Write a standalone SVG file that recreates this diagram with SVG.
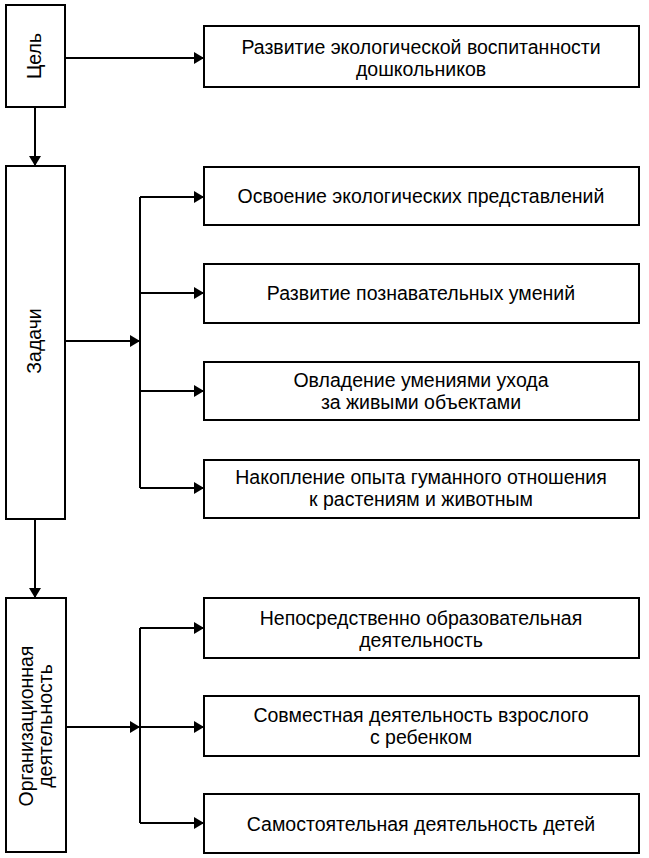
<svg xmlns="http://www.w3.org/2000/svg" width="649" height="858" viewBox="0 0 649 858">
<style>
  rect { fill: #fff; stroke: #000; stroke-width: 2; }
  text { font-family: "Liberation Sans", Arial, sans-serif; font-size: 19.5px; fill: #000; text-anchor: middle; }
  .c { fill: none; stroke: #000; stroke-width: 2; }
</style>
<defs>
  <marker id="ah" viewBox="0 0 10 12" refX="10" refY="6" markerWidth="10" markerHeight="12" markerUnits="userSpaceOnUse" orient="auto">
    <path d="M0,0 L10,6 L0,12 Z" fill="#000"/>
  </marker>
</defs>
<rect x="0" y="0" width="649" height="858" style="stroke:none"/>

<g id="connectors">
  <path class="c" d="M65,58 H204" marker-end="url(#ah)"/>
  <path class="c" d="M35,107 V166" marker-end="url(#ah)"/>
  <path class="c" d="M65,341 H140" marker-end="url(#ah)"/>
  <path class="c" d="M140,197 V488"/>
  <path class="c" d="M140,197 H204" marker-end="url(#ah)"/>
  <path class="c" d="M140,293 H204" marker-end="url(#ah)"/>
  <path class="c" d="M140,391 H204" marker-end="url(#ah)"/>
  <path class="c" d="M140,488 H204" marker-end="url(#ah)"/>
  <path class="c" d="M35,519 V598" marker-end="url(#ah)"/>
  <path class="c" d="M66,727 H140" marker-end="url(#ah)"/>
  <path class="c" d="M140,628 V823"/>
  <path class="c" d="M140,628 H204" marker-end="url(#ah)"/>
  <path class="c" d="M140,727 H204" marker-end="url(#ah)"/>
  <path class="c" d="M140,823 H204" marker-end="url(#ah)"/>
</g>

<g id="goal">
  <rect x="6" y="5" width="59" height="102"/>
  <text transform="translate(41,56) rotate(-90)" x="0" y="0">Цель</text>
</g>
<g id="goal-result">
  <rect x="204" y="26" width="435" height="61"/>
  <text x="421" y="54">Развитие экологической воспитанности</text>
  <text x="421" y="76">дошкольников</text>
</g>

<g id="tasks">
  <rect x="6" y="166" width="59" height="353"/>
  <text transform="translate(41,341) rotate(-90)" x="0" y="0">Задачи</text>
</g>
<g id="task1">
  <rect x="204" y="167" width="435" height="58"/>
  <text x="421" y="203">Освоение экологических представлений</text>
</g>
<g id="task2">
  <rect x="204" y="264" width="435" height="59"/>
  <text x="421" y="300">Развитие познавательных умений</text>
</g>
<g id="task3">
  <rect x="204" y="362" width="435" height="58"/>
  <text x="421" y="387">Овладение умениями ухода</text>
  <text x="421" y="409">за живыми объектами</text>
</g>
<g id="task4">
  <rect x="204" y="460" width="435" height="58"/>
  <text x="421" y="484">Накопление опыта гуманного отношения</text>
  <text x="421" y="506">к растениям и животным</text>
</g>

<g id="org">
  <rect x="6" y="598" width="60" height="254"/>
  <text transform="translate(33,726) rotate(-90)" x="0" y="0">Организационная</text>
  <text transform="translate(52,726) rotate(-90)" x="0" y="0">деятельность</text>
</g>
<g id="org1">
  <rect x="204" y="598" width="435" height="60"/>
  <text x="421" y="625">Непосредственно образовательная</text>
  <text x="421" y="647">деятельность</text>
</g>
<g id="org2">
  <rect x="204" y="696" width="435" height="60"/>
  <text x="421" y="722">Совместная деятельность взрослого</text>
  <text x="421" y="744">с ребенком</text>
</g>
<g id="org3">
  <rect x="204" y="794" width="435" height="59"/>
  <text x="421" y="831">Самостоятельная деятельность детей</text>
</g>
</svg>
